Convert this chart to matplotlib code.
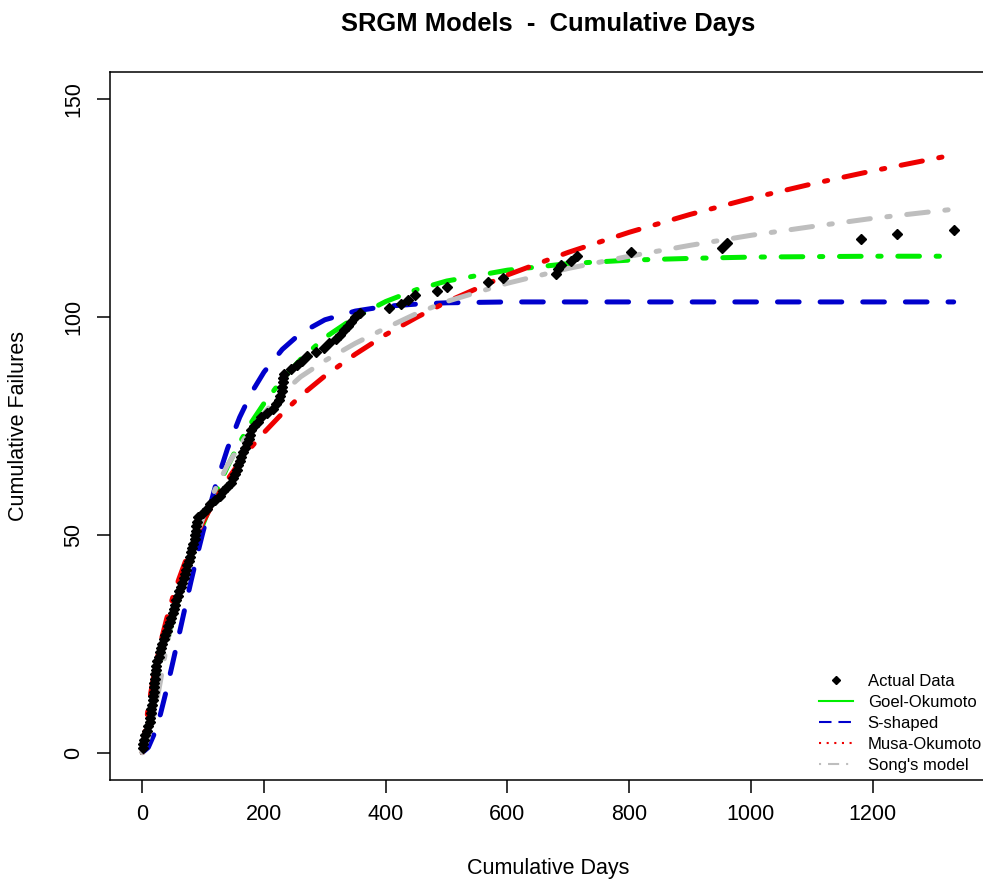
import matplotlib
matplotlib.use("Agg")
import matplotlib.pyplot as plt
from matplotlib.lines import Line2D

plt.rcParams['font.family'] = ['Liberation Sans', 'DejaVu Sans']
plt.rcParams['lines.scale_dashes'] = False

# observed data: failure count vs cumulative days
failures = list(range(1, 121))
days = [1, 2, 3, 5, 8, 10, 12, 13, 14, 15, 16, 17, 18, 19, 20, 20, 21, 21, 22, 23,
        25, 28, 29, 30, 33, 36, 38, 40, 42, 45, 48, 50, 52, 54, 56, 58, 61, 64, 66, 68,
        70, 72, 74, 76, 78, 80, 82, 84, 86, 87, 88, 89, 90, 92, 100, 106, 112, 120, 127, 133,
        140, 145, 149, 152, 155, 158, 161, 163, 166, 169, 172, 175, 177, 179, 184, 190, 195, 205, 215, 220,
        225, 227, 229, 230, 231, 232, 233, 245, 255, 262, 270, 285, 298, 306, 318, 325, 332, 338, 343, 350,
        358, 405, 425, 436, 448, 485, 500, 568, 593, 680, 683, 688, 705, 714, 803, 952, 961, 1180, 1240, 1333]

t_fit = [0, 10, 20, 30, 40, 50, 60, 70, 80, 90, 100, 120, 140, 160, 180, 200, 230, 260,
         300, 350, 400, 450, 500, 600, 700, 800, 900, 1000, 1100, 1200, 1333]
goel_okumoto = [0, 6.9, 13.3, 19.4, 25.0, 30.4, 35.4, 40.1, 44.6, 48.7, 52.5, 59.5, 65.7, 71.2, 76.0,
                80.2, 85.7, 90.3, 95.3, 100.0, 103.6, 106.3, 108.3, 110.8, 112.3, 113.1, 113.5,
                113.8, 113.9, 114.0, 114.0]
s_shaped = [0, 1.2, 4.4, 8.9, 14.5, 20.6, 26.8, 33.1, 39.3, 45.2, 50.8, 61.1, 69.8, 77.0, 82.8,
            87.4, 92.6, 96.3, 99.4, 101.4, 102.5, 103.0, 103.3, 103.5, 103.5, 103.5, 103.5,
            103.5, 103.5, 103.5, 103.5]
musa_okumoto = [0, 10.5, 18.6, 25.2, 30.7, 35.6, 39.8, 43.6, 47.0, 50.2, 53.0, 58.2, 62.7, 66.7, 70.3,
                73.5, 77.9, 81.9, 86.5, 91.5, 96.0, 99.9, 103.5, 109.7, 114.9, 119.5, 123.6,
                127.3, 130.6, 133.6, 137.3]
song_model = [0, 3.5, 9.0, 16.5, 24.5, 31.0, 36.5, 41.5, 46.0, 50.0, 54.0, 60.5, 66.0, 70.5, 74.5,
              78.0, 82.5, 86.3, 90.0, 94.0, 97.5, 100.8, 103.6, 107.8, 111.2, 114.0, 116.5,
              118.8, 120.8, 122.7, 124.8]

fig = plt.figure(figsize=(9.83, 8.86), dpi=100)
ax = fig.add_axes([0.1119, 0.1196, 0.8911, 0.7991])

lw = 3.6
long_dot = (0, (15.6, 12, 2.4, 12))
ax.plot(t_fit, goel_okumoto, color='#00ee00', lw=lw, ls=long_dot, dash_capstyle='round')
ax.plot(t_fit, s_shaped, color='#0000cc', lw=lw, ls=(0, (15.6, 15.1)), dash_capstyle='round')
ax.plot(t_fit, musa_okumoto, color='#ee0000', lw=lw, ls=long_dot, dash_capstyle='round')
ax.plot(t_fit, song_model, color='#bebebe', lw=lw, ls=long_dot, dash_capstyle='round')
ax.plot(days, failures, 'D', color='black', ms=5.5, zorder=5)

ax.set_xlim(-53, 1386)
ax.set_ylim(-6.3, 156.3)
ax.set_xticks([0, 200, 400, 600, 800, 1000, 1200])
ax.set_yticks([0, 50, 100, 150])
ax.tick_params(axis='both', length=9.4, width=1.1, labelsize=15.5)
ax.tick_params(axis='x', pad=8)
ax.tick_params(axis='y', pad=9)
plt.setp(ax.get_yticklabels(), rotation=90, va='center')
for s in ax.spines.values():
    s.set_linewidth(1.1)

ax.set_xlabel('Cumulative Days', fontsize=15.5)
ax.set_ylabel('Cumulative Failures', fontsize=15.5)
ax.xaxis.set_label_coords(0.5, -0.110)
ax.yaxis.set_label_coords(-0.092, 0.5)
ax.text(0.5, 1.068, 'SRGM Models  -  Cumulative Days', transform=ax.transAxes,
        ha='center', va='center', fontsize=18.4, fontweight='bold')

handles = [
    Line2D([], [], marker='D', color='black', ls='none', ms=4),
    Line2D([], [], color='#00ee00', lw=1.5),
    Line2D([], [], color='#0000cc', lw=1.5, ls=(0, (9, 5))),
    Line2D([], [], color='#ee0000', lw=1.5, ls=(0, (1.5, 4))),
    Line2D([], [], color='#bebebe', lw=1.5, ls=(0, (1.5, 5, 8, 5))),
]
labels = ['Actual Data', 'Goel-Okumoto', 'S-shaped', 'Musa-Okumoto', "Song's model"]
fig.legend(handles, labels, loc='lower right', bbox_to_anchor=(0.999, 0.128),
           frameon=False, fontsize=12, handlelength=2.0, handletextpad=0.9,
           labelspacing=0.35, borderpad=0, borderaxespad=0)

fig.savefig('out.png', dpi=100)
